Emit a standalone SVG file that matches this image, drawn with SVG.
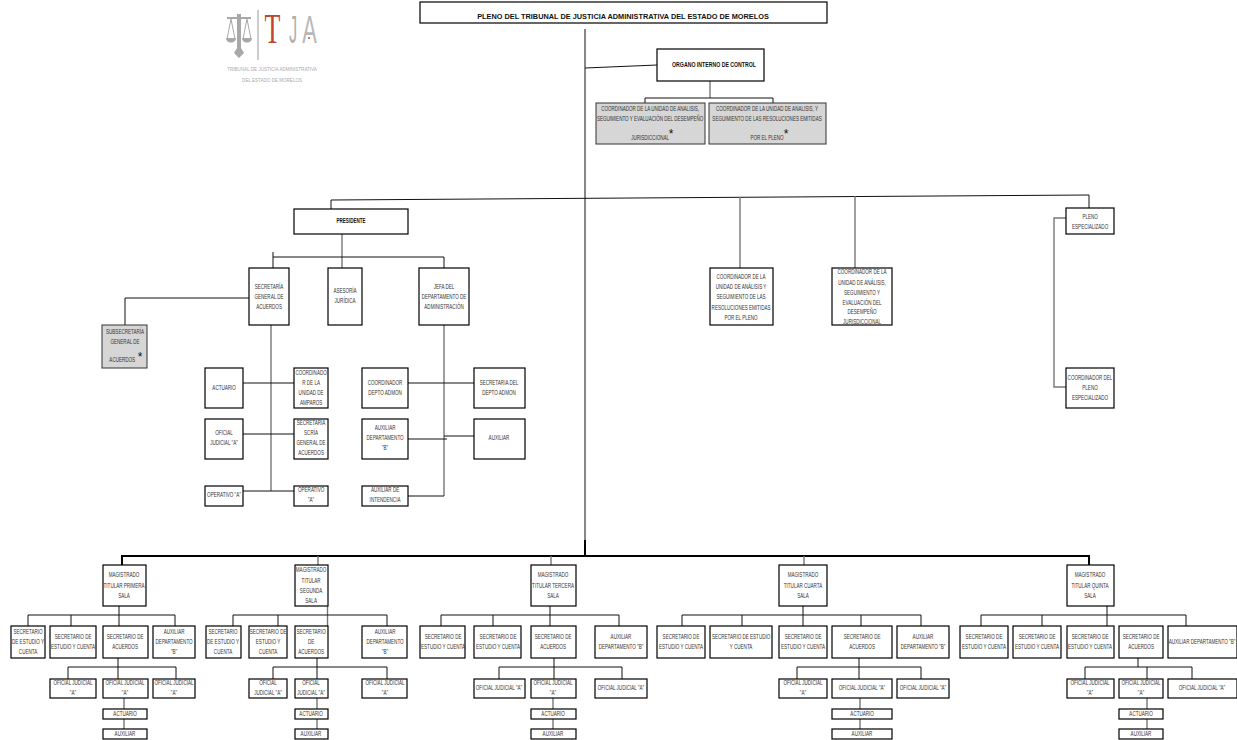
<svg xmlns="http://www.w3.org/2000/svg" width="1237" height="740" viewBox="0 0 1237 740">
<style>
rect.n{fill:#fff;stroke:#000;stroke-width:1.2}
rect.s{fill:#d6d6d6;stroke:#333;stroke-width:1}
text{font-family:"Liberation Sans",Arial,sans-serif;fill:#333;text-anchor:middle}
.t,.b{font-size:6.5px;transform-box:fill-box;transform-origin:center;transform:scaleX(.7)}
.b{font-weight:bold;fill:#111}
.k{font-size:12px;fill:#111}
#conn path{fill:none;stroke:#111;stroke-width:1}
#conn path.g{stroke:#777;stroke-width:1.4}
#conn path.h{stroke-width:2;stroke:#000}
.lg{fill:#a8a8a8}
.ll{fill:none;stroke:#a8a8a8;stroke-width:1}
</style>
<g id="logo">
<path class="lg" d="M237 14h4v3h10v2h-10v29l3 5-5 5-5-5 3-5V19h-10v-2h10z"/>
<path class="ll" d="M231 19l-4 20M231 19l4 20M247 19l-4 20M247 19l4 20"/>
<path class="lg" d="M226 38h10c0 6-10 6-10 0zM242 38h10c0 6-10 6-10 0z"/>
<path d="M258 10V60" stroke="#9a9a9a" stroke-width="1" fill="none"/>
<text transform="translate(272.500 43) scale(.62 1)" style="font-family:'Liberation Serif',serif;font-size:42px;fill:#c0442f">T</text>
<text transform="translate(293 43) scale(.42 1)" style="font-size:39px;fill:#b0b0b0">J</text>
<text transform="translate(309.500 43) scale(.56 1)" style="font-size:39px;fill:#b8b8b8">A</text>
<circle cx="309" cy="38" r="1" fill="#c0442f"/>
<text x="272" y="71" class="t" style="font-size:6px;fill:#aaa;transform:scaleX(.76)">TRIBUNAL DE JUSTICIA ADMINISTRATIVA</text>
<text x="272" y="82" class="t" style="font-size:6px;fill:#aaa;transform:scaleX(.76)">DEL ESTADO DE MORELOS</text>
</g>
<g id="conn">
<path d="M585 29V556"/>
<path d="M585 68L657 65"/>
<path class="g" d="M710 81V98"/>
<path d="M645 104V98H773V104"/>
<path d="M331 209V200L1089 195V208"/>
<path class="g" d="M740 197V268M855 196V268"/>
<path class="g" d="M1066 218H1054V387H1066"/>
<path class="g" d="M342 234V269"/>
<path d="M273 252V268M273 257H444V268"/>
<path d="M249 298H125V325"/>
<path class="g" d="M271 325V491M444 325V496"/>
<path d="M243 383H294M243 434H294M243 491H294M408 383H474M408 439H447M444 436H474M408 496H444"/>
<path class="h" d="M122 565V556H1089V565M585 540V556"/>
<path class="g" d="M318 556V565M551 556V565M804 556V565"/>
<path d="M119 606V626M28 626V615H175V626M71 615V626"/>
<path d="M118 658V667M68 679V667H176V679M118 667V679"/>
<path class="g" d="M124 698V709M124 719V729"/>
<path class="g" d="M327.500 606V626"/>
<path d="M233 626V615H387V626M278 615V626"/>
<path d="M317 658V667M273 679V667H387V679M317 667V679"/>
<path class="g" d="M317 698V709M317 719V729"/>
<path d="M550 606V626M441 626V615H619V626M493 615V626"/>
<path d="M554 658V667M499 679V667H622V679M554 667V679"/>
<path class="g" d="M553 698V709M553 719V729"/>
<path d="M803 606V626M682 626V615H921V626M742 615V626M861 615V626"/>
<path d="M859 658V667M797 679V667H921V679M859 667V679"/>
<path class="g" d="M860 698V709M860 719V729"/>
<path d="M1107 606V626M981 626V615H1186V626M1042 615V626"/>
<path d="M1138 658V667M1085 679V667H1192V679M1147 667V679"/>
<path class="g" d="M1147 698V709M1147 719V729"/>
</g>
<g id="pleno"><rect class="n" x="420" y="2" width="407" height="21"/><text class="b" x="623" y="19.500" style="font-size:7.500px;transform:scaleX(.98)">PLENO DEL TRIBUNAL DE JUSTICIA ADMINISTRATIVA DEL ESTADO DE MORELOS</text></g>
<g id="oic"><rect class="n" x="657" y="49" width="107" height="32"/><text class="b" x="714" y="67" style="transform:scaleX(.8)">ORGANO INTERNO DE CONTROL</text></g>
<g id="coord-a"><rect class="s" x="596" y="103" width="109" height="41"/><text class="t" x="650" y="111"><tspan x="650" y="111">COORDINADOR DE LA UNIDAD DE ANALISIS,</tspan><tspan x="650" y="121">SEGUIMIENTO Y EVALUACIÓN DEL DESEMPEÑO</tspan><tspan x="650" y="140">JURISDICCIONAL</tspan></text><text class="k" x="671" y="138">*</text></g>
<g id="coord-b"><rect class="s" x="709" y="103" width="117" height="41"/><text class="t" x="767" y="111"><tspan x="767" y="111">COORDINADOR DE LA UNIDAD DE ANALISIS, Y</tspan><tspan x="767" y="121">SEGUIMIENTO  DE LAS RESOLUCIONES EMITIDAS</tspan><tspan x="767" y="140">POR EL PLENO</tspan></text><text class="k" x="786" y="138">*</text></g>
<g id="presidente"><rect class="n" x="294" y="209" width="114" height="25"/><text class="b" x="351" y="223">PRESIDENTE</text></g>
<g id="sec-gral"><rect class="n" x="249" y="268" width="40" height="57"/><text class="t" x="269" y="289"><tspan x="269" y="289">SECRETARÍA</tspan><tspan x="269" y="299">GENERAL DE</tspan><tspan x="269" y="309">ACUERDOS</tspan></text></g>
<g id="asesoria"><rect class="n" x="328" y="268" width="34" height="57"/><text class="t" x="345" y="293"><tspan x="345" y="293">ASESORÍA</tspan><tspan x="345" y="303">JURÍDICA</tspan></text></g>
<g id="jefa"><rect class="n" x="419" y="268" width="50" height="57"/><text class="t" x="444" y="289"><tspan x="444" y="289">JEFA DEL</tspan><tspan x="444" y="299">DEPARTAMENTO DE</tspan><tspan x="444" y="309">ADMINISTRACIÓN</tspan></text></g>
<g id="subsec"><rect class="s" x="102" y="325" width="45" height="43"/><text class="t" x="125" y="334"><tspan x="125" y="334">SUBSECRETARÍA</tspan><tspan x="125" y="344">GENERAL DE</tspan><tspan x="121" y="362">ACUERDOS</tspan></text><text class="k" x="140" y="361">*</text></g>
<g id="actuario"><rect class="n" x="205" y="368" width="38" height="40"/><text class="t" x="224" y="390">ACTUARIO</text></g>
<g id="coord-amparos"><rect class="n" x="294" y="368" width="34" height="40"/><text class="t" x="311" y="375"><tspan x="311" y="375">COORDINADO</tspan><tspan x="311" y="385">R DE LA</tspan><tspan x="311" y="395">UNIDAD DE</tspan><tspan x="311" y="405">AMPAROS</tspan></text></g>
<g id="oficial"><rect class="n" x="205" y="419" width="38" height="40"/><text class="t" x="224" y="435"><tspan x="224" y="435">OFICIAL</tspan><tspan x="224" y="445">JUDICIAL "A"</tspan></text></g>
<g id="scria"><rect class="n" x="294" y="419" width="34" height="40"/><text class="t" x="311" y="425"><tspan x="311" y="425">SECRETARIA</tspan><tspan x="311" y="435">SCRÍA</tspan><tspan x="311" y="445">GENERAL DE</tspan><tspan x="311" y="455">ACUERDOS</tspan></text></g>
<g id="operativo-1"><rect class="n" x="205" y="486" width="38" height="20"/><text class="t" x="224" y="497">OPERATIVO "A"</text></g>
<g id="operativo-2"><rect class="n" x="294" y="486" width="34" height="20"/><text class="t" x="311" y="492"><tspan x="311" y="492">OPERATIVO</tspan><tspan x="311" y="502">"A"</tspan></text></g>
<g id="coord-depto"><rect class="n" x="362" y="368" width="46" height="40"/><text class="t" x="385" y="385"><tspan x="385" y="385">COORDINADOR</tspan><tspan x="385" y="395">DEPTO ADMON</tspan></text></g>
<g id="sec-depto"><rect class="n" x="474" y="368" width="51" height="40"/><text class="t" x="499" y="385"><tspan x="499" y="385">SECRETARIA DEL</tspan><tspan x="499" y="395">DEPTO ADMON</tspan></text></g>
<g id="aux-dep"><rect class="n" x="362" y="419" width="46" height="40"/><text class="t" x="385" y="430"><tspan x="385" y="430">AUXILIAR</tspan><tspan x="385" y="440">DEPARTAMENTO</tspan><tspan x="385" y="450">"B"</tspan></text></g>
<g id="aux"><rect class="n" x="474" y="419" width="51" height="40"/><text class="t" x="499" y="440">AUXILIAR</text></g>
<g id="aux-int"><rect class="n" x="362" y="486" width="46" height="20"/><text class="t" x="385" y="492"><tspan x="385" y="492">AUXILIAR DE</tspan><tspan x="385" y="502">INTENDENCIA</tspan></text></g>
<g id="coord-res"><rect class="n" x="710" y="268" width="63" height="57"/><text class="t" x="741" y="279"><tspan x="741" y="279">COORDINADOR DE LA</tspan><tspan x="741" y="289">UNIDAD DE ANÁLISIS Y</tspan><tspan x="741" y="299">SEGUIMIENTO DE LAS</tspan><tspan x="741" y="310">RESOLUCIONES EMITIDAS</tspan><tspan x="741" y="320">POR EL PLENO</tspan></text></g>
<g id="coord-eval"><rect class="n" x="832" y="268" width="60" height="57"/><text class="t" x="862" y="274"><tspan x="862" y="274">COORDINADOR DE LA</tspan><tspan x="862" y="285">UNIDAD DE ANÁLISIS,</tspan><tspan x="862" y="295">SEGUIMIENTO Y</tspan><tspan x="862" y="305">EVALUACIÓN DEL</tspan><tspan x="862" y="314">DESEMPEÑO</tspan><tspan x="862" y="324">JURISDICCIONAL</tspan></text></g>
<g id="pleno-esp"><rect class="n" x="1066" y="208" width="48" height="26"/><text class="t" x="1090" y="219"><tspan x="1090" y="219">PLENO</tspan><tspan x="1090" y="229">ESPECIALIZADO</tspan></text></g>
<g id="coord-pleno"><rect class="n" x="1066" y="368" width="48" height="40"/><text class="t" x="1090" y="380"><tspan x="1090" y="380">COORDINADOR DEL</tspan><tspan x="1090" y="390">PLENO</tspan><tspan x="1090" y="400">ESPECIALIZADO</tspan></text></g>

<g id="mag1"><rect class="n" x="103" y="565" width="43" height="41"/><text class="t" x="124" y="577"><tspan x="124" y="577">MAGISTRADO</tspan><tspan x="124" y="588">TITULAR PRIMERA</tspan><tspan x="124" y="598">SALA</tspan></text></g>
<g id="s1a"><rect class="n" x="11" y="626" width="34" height="32"/><text class="t" x="28" y="634"><tspan x="28" y="634">SECRETARIO</tspan><tspan x="28" y="644">DE ESTUDIO Y</tspan><tspan x="28" y="654">CUENTA</tspan></text></g>
<g id="s1b"><rect class="n" x="50" y="626" width="46" height="32"/><text class="t" x="73" y="639"><tspan x="73" y="639">SECRETARIO DE</tspan><tspan x="73" y="649">ESTUDIO Y CUENTA</tspan></text></g>
<g id="s1c"><rect class="n" x="103" y="626" width="45" height="32"/><text class="t" x="125" y="639"><tspan x="125" y="639">SECRETARIO DE</tspan><tspan x="125" y="649">ACUERDOS</tspan></text></g>
<g id="s1d"><rect class="n" x="153" y="626" width="42" height="32"/><text class="t" x="174" y="634"><tspan x="174" y="634">AUXILIAR</tspan><tspan x="174" y="644">DEPARTAMENTO</tspan><tspan x="174" y="654">"B"</tspan></text></g>
<g id="o1a"><rect class="n" x="50" y="679" width="46" height="19"/><text class="t" x="73" y="685"><tspan x="73" y="685">OFICIAL JUDICIAL</tspan><tspan x="73" y="695">"A"</tspan></text></g>
<g id="o1b"><rect class="n" x="103" y="679" width="45" height="19"/><text class="t" x="125" y="685"><tspan x="125" y="685">OFICIAL JUDICIAL</tspan><tspan x="125" y="695">"A"</tspan></text></g>
<g id="o1c"><rect class="n" x="153" y="679" width="42" height="19"/><text class="t" x="174" y="685"><tspan x="174" y="685">OFICIAL JUDICIAL</tspan><tspan x="174" y="695">"A"</tspan></text></g>
<g id="ac1"><rect class="n" x="103" y="709" width="44" height="10"/><text class="t" x="125" y="716">ACTUARIO</text></g>
<g id="au1"><rect class="n" x="103" y="729" width="44" height="10"/><text class="t" x="125" y="736">AUXILIAR</text></g>

<g id="mag2"><rect class="n" x="295" y="565" width="33" height="41"/><text class="t" x="311" y="572"><tspan x="311" y="572">MAGISTRADO</tspan><tspan x="311" y="583">TITULAR</tspan><tspan x="311" y="593">SEGUNDA</tspan><tspan x="311" y="603">SALA</tspan></text></g>
<g id="s2a"><rect class="n" x="206" y="626" width="35" height="32"/><text class="t" x="223" y="634"><tspan x="223" y="634">SECRETARIO</tspan><tspan x="223" y="644">DE ESTUDIO Y</tspan><tspan x="223" y="654">CUENTA</tspan></text></g>
<g id="s2b"><rect class="n" x="249" y="626" width="38" height="32"/><text class="t" x="268" y="634"><tspan x="268" y="634">SECRETARIO DE</tspan><tspan x="268" y="644">ESTUDIO Y</tspan><tspan x="268" y="654">CUENTA</tspan></text></g>
<g id="s2c"><rect class="n" x="295" y="626" width="33" height="32"/><text class="t" x="311" y="634"><tspan x="311" y="634">SECRETARIO</tspan><tspan x="311" y="644">DE</tspan><tspan x="311" y="654">ACUERDOS</tspan></text></g>
<g id="s2d"><rect class="n" x="362" y="626" width="45" height="32"/><text class="t" x="385" y="634"><tspan x="385" y="634">AUXILIAR</tspan><tspan x="385" y="644">DEPARTAMENTO</tspan><tspan x="385" y="654">"B"</tspan></text></g>
<g id="o2a"><rect class="n" x="249" y="679" width="38" height="19"/><text class="t" x="268" y="685"><tspan x="268" y="685">OFICIAL</tspan><tspan x="268" y="695">JUDICIAL "A"</tspan></text></g>
<g id="o2b"><rect class="n" x="295" y="679" width="33" height="19"/><text class="t" x="311" y="685"><tspan x="311" y="685">OFICIAL</tspan><tspan x="311" y="695">JUDICIAL "A"</tspan></text></g>
<g id="o2c"><rect class="n" x="362" y="679" width="45" height="19"/><text class="t" x="385" y="685"><tspan x="385" y="685">OFICIAL JUDICIAL</tspan><tspan x="385" y="695">"A"</tspan></text></g>
<g id="ac2"><rect class="n" x="295" y="709" width="33" height="10"/><text class="t" x="311" y="716">ACTUARIO</text></g>
<g id="au2"><rect class="n" x="295" y="729" width="33" height="10"/><text class="t" x="311" y="736">AUXILIAR</text></g>

<g id="mag3"><rect class="n" x="531" y="565" width="45" height="41"/><text class="t" x="553" y="577"><tspan x="553" y="577">MAGISTRADO</tspan><tspan x="553" y="588">TITULAR TERCERA</tspan><tspan x="553" y="598">SALA</tspan></text></g>
<g id="s3a"><rect class="n" x="420" y="626" width="45" height="32"/><text class="t" x="443" y="639"><tspan x="443" y="639">SECRETARIO DE</tspan><tspan x="443" y="649">ESTUDIO Y CUENTA</tspan></text></g>
<g id="s3b"><rect class="n" x="474" y="626" width="47" height="32"/><text class="t" x="498" y="639"><tspan x="498" y="639">SECRETARIO DE</tspan><tspan x="498" y="649">ESTUDIO Y CUENTA</tspan></text></g>
<g id="s3c"><rect class="n" x="531" y="626" width="45" height="32"/><text class="t" x="553" y="639"><tspan x="553" y="639">SECRETARIO DE</tspan><tspan x="553" y="649">ACUERDOS</tspan></text></g>
<g id="s3d"><rect class="n" x="595" y="626" width="52" height="32"/><text class="t" x="621" y="639"><tspan x="621" y="639">AUXILIAR</tspan><tspan x="621" y="649">DEPARTAMENTO "B"</tspan></text></g>
<g id="o3a"><rect class="n" x="474" y="679" width="51" height="19"/><text class="t" x="499" y="690">OFICIAL JUDICIAL "A"</text></g>
<g id="o3b"><rect class="n" x="531" y="679" width="45" height="19"/><text class="t" x="553" y="685"><tspan x="553" y="685">OFICIAL JUDICIAL</tspan><tspan x="553" y="695">"A"</tspan></text></g>
<g id="o3c"><rect class="n" x="595" y="679" width="52" height="19"/><text class="t" x="621" y="690">OFICIAL JUDICIAL "A"</text></g>
<g id="ac3"><rect class="n" x="531" y="709" width="45" height="10"/><text class="t" x="553" y="716">ACTUARIO</text></g>
<g id="au3"><rect class="n" x="531" y="729" width="45" height="10"/><text class="t" x="553" y="736">AUXILIAR</text></g>

<g id="mag4"><rect class="n" x="779" y="565" width="48" height="41"/><text class="t" x="803" y="577"><tspan x="803" y="577">MAGISTRADO</tspan><tspan x="803" y="588">TITULAR CUARTA</tspan><tspan x="803" y="598">SALA</tspan></text></g>
<g id="s4a"><rect class="n" x="657" y="626" width="48" height="32"/><text class="t" x="681" y="639"><tspan x="681" y="639">SECRETARIO DE</tspan><tspan x="681" y="649">ESTUDIO Y CUENTA</tspan></text></g>
<g id="s4b"><rect class="n" x="710" y="626" width="62" height="32"/><text class="t" x="741" y="639"><tspan x="741" y="639">SECRETARIO DE ESTUDIO</tspan><tspan x="741" y="649">Y CUENTA</tspan></text></g>
<g id="s4c"><rect class="n" x="779" y="626" width="48" height="32"/><text class="t" x="803" y="639"><tspan x="803" y="639">SECRETARIO DE</tspan><tspan x="803" y="649">ESTUDIO Y CUENTA</tspan></text></g>
<g id="s4d"><rect class="n" x="832" y="626" width="60" height="32"/><text class="t" x="862" y="639"><tspan x="862" y="639">SECRETARIO DE</tspan><tspan x="862" y="649">ACUERDOS</tspan></text></g>
<g id="s4e"><rect class="n" x="897" y="626" width="52" height="32"/><text class="t" x="923" y="639"><tspan x="923" y="639">AUXILIAR</tspan><tspan x="923" y="649">DEPARTAMENTO "B"</tspan></text></g>
<g id="o4a"><rect class="n" x="779" y="679" width="48" height="19"/><text class="t" x="803" y="685"><tspan x="803" y="685">OFICIAL JUDICIAL</tspan><tspan x="803" y="695">"A"</tspan></text></g>
<g id="o4b"><rect class="n" x="832" y="679" width="60" height="19"/><text class="t" x="862" y="690">OFICIAL JUDICIAL "A"</text></g>
<g id="o4c"><rect class="n" x="897" y="679" width="52" height="19"/><text class="t" x="923" y="690">OFICIAL JUDICIAL "A"</text></g>
<g id="ac4"><rect class="n" x="832" y="709" width="60" height="10"/><text class="t" x="862" y="716">ACTUARIO</text></g>
<g id="au4"><rect class="n" x="832" y="729" width="60" height="10"/><text class="t" x="862" y="736">AUXILIAR</text></g>

<g id="mag5"><rect class="n" x="1067" y="565" width="47" height="41"/><text class="t" x="1090" y="577"><tspan x="1090" y="577">MAGISTRADO</tspan><tspan x="1090" y="588">TITULAR QUINTA</tspan><tspan x="1090" y="598">SALA</tspan></text></g>
<g id="s5a"><rect class="n" x="960" y="626" width="48" height="32"/><text class="t" x="984" y="639"><tspan x="984" y="639">SECRETARIO DE</tspan><tspan x="984" y="649">ESTUDIO Y CUENTA</tspan></text></g>
<g id="s5b"><rect class="n" x="1013" y="626" width="48" height="32"/><text class="t" x="1037" y="639"><tspan x="1037" y="639">SECRETARIO DE</tspan><tspan x="1037" y="649">ESTUDIO Y CUENTA</tspan></text></g>
<g id="s5c"><rect class="n" x="1067" y="626" width="47" height="32"/><text class="t" x="1090" y="639"><tspan x="1090" y="639">SECRETARIO DE</tspan><tspan x="1090" y="649">ESTUDIO Y CUENTA</tspan></text></g>
<g id="s5d"><rect class="n" x="1119" y="626" width="44" height="32"/><text class="t" x="1141" y="639"><tspan x="1141" y="639">SECRETARIO DE</tspan><tspan x="1141" y="649">ACUERDOS</tspan></text></g>
<g id="s5e"><rect class="n" x="1168" y="626" width="69" height="32"/><text class="t" x="1202" y="644">AUXILIAR DEPARTAMENTO "B"</text></g>
<g id="o5a"><rect class="n" x="1067" y="679" width="47" height="19"/><text class="t" x="1090" y="685"><tspan x="1090" y="685">OFICIAL JUDICIAL</tspan><tspan x="1090" y="695">"A"</tspan></text></g>
<g id="o5b"><rect class="n" x="1119" y="679" width="44" height="19"/><text class="t" x="1141" y="685"><tspan x="1141" y="685">OFICIAL JUDICIAL</tspan><tspan x="1141" y="695">"A"</tspan></text></g>
<g id="o5c"><rect class="n" x="1168" y="679" width="69" height="19"/><text class="t" x="1202" y="690">OFICIAL JUDICIAL "A"</text></g>
<g id="ac5"><rect class="n" x="1119" y="709" width="44" height="10"/><text class="t" x="1141" y="716">ACTUARIO</text></g>
<g id="au5"><rect class="n" x="1119" y="729" width="44" height="10"/><text class="t" x="1141" y="736">AUXILIAR</text></g>
</svg>
